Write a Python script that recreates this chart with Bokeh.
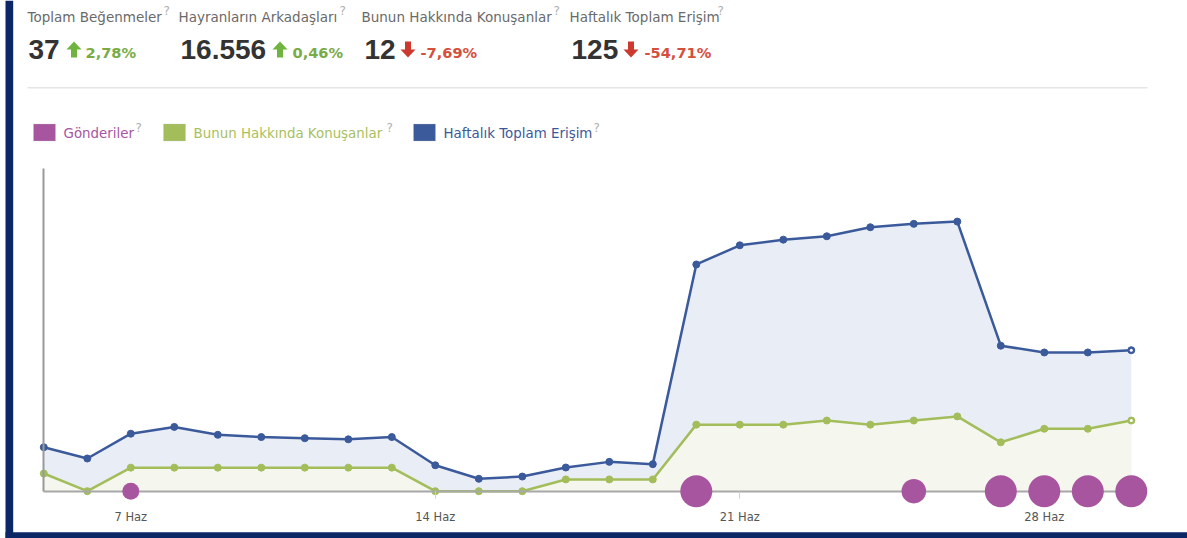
from bokeh.plotting import figure
from bokeh.models import Range1d, LinearAxis, FixedTicker, Label, BoxAnnotation, PolyAnnotation
from bokeh.embed import file_html
from bokeh.resources import INLINE

# ---------------- data ----------------
days = list(range(5, 31))  # 5 Haz .. 30 Haz
reach = [39, 29, 51, 57, 50, 48, 47, 46, 48, 23, 11, 13, 21, 26, 24,
         201, 218, 223, 226, 234, 237, 239, 129, 123, 123, 125]
talking = [3, 0, 4, 4, 4, 4, 4, 4, 4, 0, 0, 0, 2, 2, 2,
           11.3, 11.3, 11.3, 12, 11.3, 12, 12.7, 8.3, 10.6, 10.6, 12]
posts = [0, 0, 1, 0, 0, 0, 0, 0, 0, 0, 0, 0, 0, 0, 0,
         3, 0, 0, 0, 0, 2, 0, 3, 3, 3, 3]
tick_days = [7, 14, 21, 28]
tick_labels = ["7 Haz", "14 Haz", "21 Haz", "28 Haz"]

series_names = ["Gönderiler", "Bunun Hakkında Konuşanlar", "Haftalık Toplam Erişim"]
series_colors = ["#a8559f", "#a3bd5b", "#3b5a9b"]
series_text_colors = ["#a8559f", "#a8c060", "#3b5998"]

kpi_labels = ["Toplam Beğenmeler", "Hayranların Arkadaşları",
              "Bunun Hakkında Konuşanlar", "Haftalık Toplam Erişim"]
kpi_values = ["37", "16.556", "12", "125"]
kpi_changes = ["2,78%", "0,46%", "-7,69%", "-54,71%"]
kpi_up = [True, True, False, False]

# ---------------- layout constants ----------------
W, H = 1187, 538
X0_PX, DX_PX = 43.3, 43.5          # pixel x of first day, pixels per day
BASE_PX = H - 490.7                 # baseline height from bottom
REACH_PPU, TALK_PPU = 1.128, 5.89   # pixels per unit
NAVY = "#0c2766"
FONT = "DejaVu Sans"

def sy(y_top):
    return H - y_top

x_range = Range1d(days[0] - X0_PX / DX_PX, days[0] + (W - X0_PX) / DX_PX)
y_range = Range1d(-BASE_PX / REACH_PPU, (H - BASE_PX) / REACH_PPU)

p = figure(width=W, height=H, output_backend="svg", toolbar_location=None,
           x_range=x_range, y_range=y_range,
           x_axis_location=None, y_axis_location=None,
           min_border=0, outline_line_color=None,
           background_fill_color="white", border_fill_color="white")
p.grid.visible = False
p.extra_y_ranges = {"talk": Range1d(-BASE_PX / TALK_PPU, (H - BASE_PX) / TALK_PPU)}

# areas
p.varea(x=days, y1=0, y2=reach, fill_color="#e9edf6")
p.varea(x=days, y1=0, y2=talking, fill_color="#f5f7ee", y_range_name="talk")

# lines and points
p.line(days, talking, line_color=series_colors[1], line_width=2.5, y_range_name="talk")
p.scatter(days, talking, size=7, fill_color=series_colors[1], line_color=series_colors[1],
          y_range_name="talk")
p.scatter(days[-1:], talking[-1:], size=3, fill_color="white", line_color=None, y_range_name="talk")

p.line(days, reach, line_color=series_colors[2], line_width=2.5)
p.scatter(days, reach, size=7, fill_color=series_colors[2], line_color=series_colors[2])
p.scatter(days[-1:], reach[-1:], size=3, fill_color="white", line_color=None)

# axes
xaxis = LinearAxis(fixed_location=0, bounds=(days[0], days[-1]),
                   ticker=FixedTicker(ticks=tick_days),
                   major_label_overrides={d: l for d, l in zip(tick_days, tick_labels)},
                   axis_line_color="#a8a8a8", axis_line_width=2,
                   major_tick_in=0, major_tick_out=7, major_tick_line_color="#d0d0d0",
                   minor_tick_line_color=None, major_label_standoff=12,
                   major_label_text_font=FONT, major_label_text_font_size="11.5px",
                   major_label_text_color="#555555")
p.add_layout(xaxis, "below")
yaxis = LinearAxis(fixed_location=days[0], bounds=(0, 286),
                   ticker=FixedTicker(ticks=[]),
                   axis_line_color="#9a9a9a", axis_line_width=2,
                   major_tick_line_color=None, minor_tick_line_color=None,
                   major_label_text_color=None)
p.add_layout(yaxis, "left")

# posts bubbles
px = [d for d, n in zip(days, posts) if n > 0]
pn = [n for n in posts if n > 0]
psize = [9.5 + 7.5 * n for n in pn]
bub = p.scatter(px, [0] * len(px), size=psize, fill_color=series_colors[0], line_color=None)
bub.level = "overlay"

# ---------------- header ----------------
lab_x = [27, 178, 361, 569]
q_x = [163, 339, 553, 717]
val_x = [28, 180, 364, 571]
arr_x = [66, 272, 400, 623]
chg_x = [85, 292, 420, 644]

for i in range(4):
    p.add_layout(Label(x=lab_x[i], y=sy(16), x_units="screen", y_units="screen",
                       text=kpi_labels[i], text_font=FONT, text_font_size="13.5px",
                       text_color="#6a6a6a", text_baseline="middle"))
    p.add_layout(Label(x=q_x[i], y=sy(10), x_units="screen", y_units="screen",
                       text="?", text_font=FONT, text_font_size="12px",
                       text_color="#b0b0b0", text_baseline="middle"))
    p.add_layout(Label(x=val_x[i], y=sy(48.5), x_units="screen", y_units="screen",
                       text=kpi_values[i], text_font="Liberation Sans", text_font_size="28px",
                       text_font_style="bold", text_color="#333333", text_baseline="middle"))
    col = "#7aab47" if kpi_up[i] else "#d4503c"
    acol = "#6fb43f" if kpi_up[i] else "#cc3a2e"
    p.add_layout(Label(x=chg_x[i], y=sy(52), x_units="screen", y_units="screen",
                       text=kpi_changes[i], text_font=FONT, text_font_size="14.6px",
                       text_font_style="bold", text_color=col, text_baseline="middle"))
    ax, top = arr_x[i], 41
    if kpi_up[i]:
        rel = [(0, 8), (7.5, 0), (15, 8), (10.5, 8), (10.5, 16), (4.5, 16), (4.5, 8)]
    else:
        rel = [(0, 8), (7.5, 16), (15, 8), (10.5, 8), (10.5, 0), (4.5, 0), (4.5, 8)]
    p.add_layout(PolyAnnotation(xs=[ax + a for a, b in rel], ys=[sy(top + b) for a, b in rel],
                                xs_units="screen", ys_units="screen",
                                fill_color=acol, fill_alpha=1, line_color=None))

# separator
p.add_layout(BoxAnnotation(left=27, right=1147, bottom=sy(88), top=sy(86.5),
                           left_units="screen", right_units="screen",
                           bottom_units="screen", top_units="screen",
                           fill_color="#e6e6e6", fill_alpha=1, line_color=None))

# ---------------- legend ----------------
sw_x = [33, 163, 413]
lt_x = [63, 193, 443]
lq_x = [135, 386, 593]
for i in range(3):
    p.add_layout(BoxAnnotation(left=sw_x[i], right=sw_x[i] + 22, bottom=sy(140.5), top=sy(123.5),
                               left_units="screen", right_units="screen",
                               bottom_units="screen", top_units="screen",
                               fill_color=series_colors[i], fill_alpha=1,
                               line_color="#c4c4c4", line_width=1))
    p.add_layout(Label(x=lt_x[i], y=sy(132.5), x_units="screen", y_units="screen",
                       text=series_names[i], text_font=FONT, text_font_size="13.4px",
                       text_color=series_text_colors[i], text_baseline="middle"))
    p.add_layout(Label(x=lq_x[i], y=sy(127), x_units="screen", y_units="screen",
                       text="?", text_font=FONT, text_font_size="12px",
                       text_color="#b0b0b0", text_baseline="middle"))

# ---------------- frame bars ----------------
p.add_layout(BoxAnnotation(left=5, right=12.7, bottom=0, top=H,
                           left_units="screen", right_units="screen",
                           bottom_units="screen", top_units="screen",
                           fill_color=NAVY, fill_alpha=1, line_color=None))
p.add_layout(BoxAnnotation(left=5, right=W, bottom=0, top=6.3,
                           left_units="screen", right_units="screen",
                           bottom_units="screen", top_units="screen",
                           fill_color=NAVY, fill_alpha=1, line_color=None))

open("out.html", "w").write(file_html(p, INLINE))
